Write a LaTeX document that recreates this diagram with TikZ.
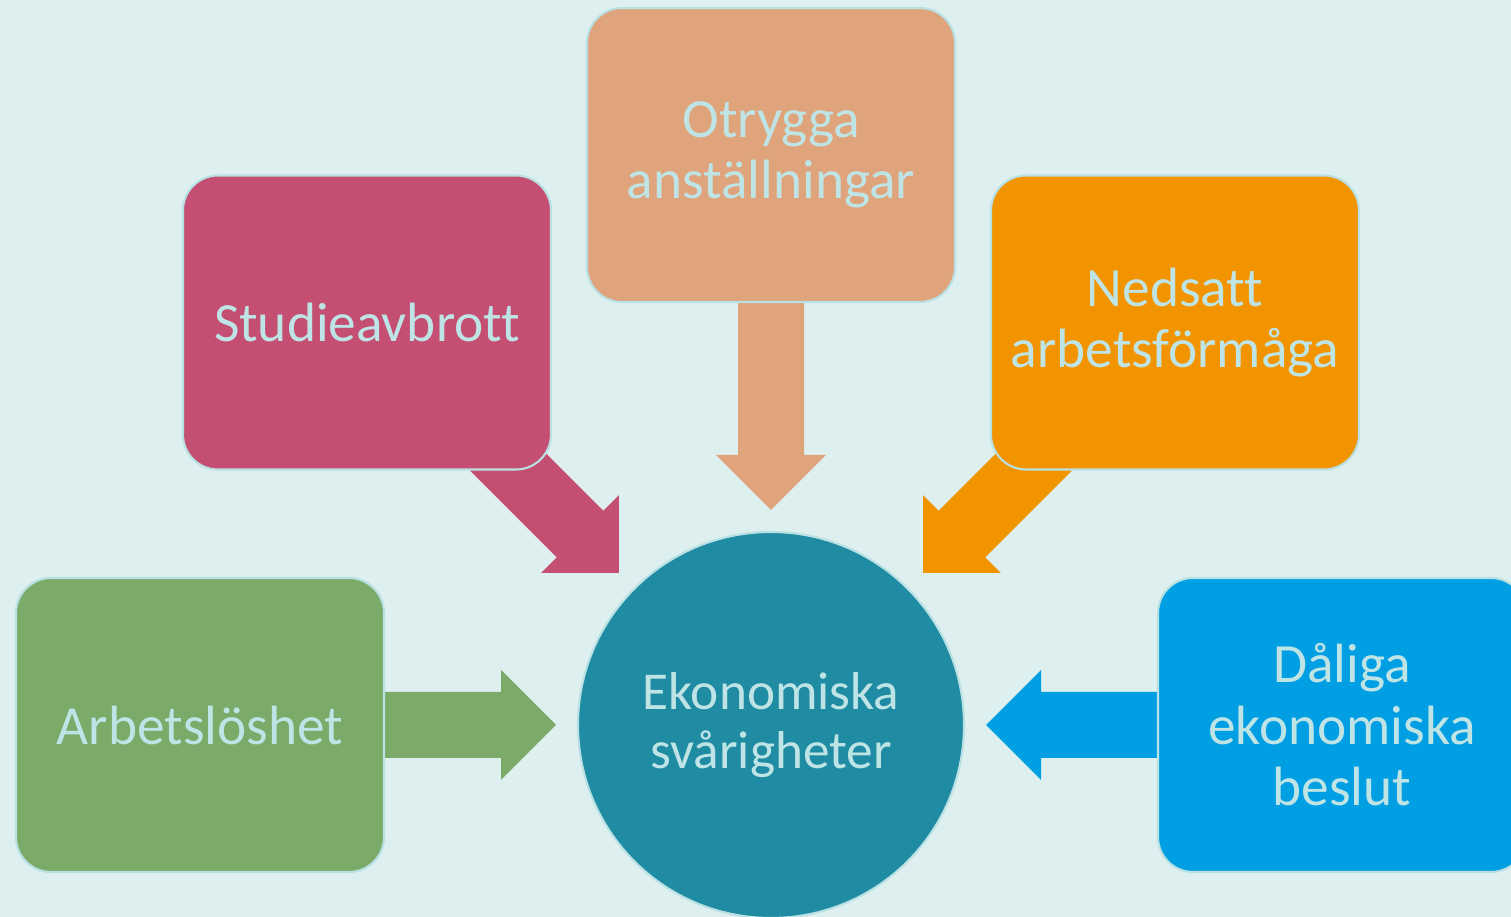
\documentclass[tikz,border=0pt]{standalone}
\usepackage{fontspec}
\setmainfont[Ligatures=NoCommon]{Carlito}
\usepackage{xcolor}
\usepackage{tikz}
\usetikzlibrary{positioning,calc,backgrounds}

\definecolor{bgcol}{HTML}{DDF0EF}
\definecolor{txtcol}{HTML}{BFE4E6}
\definecolor{edgecol}{HTML}{B9E0E3}
\definecolor{grn}{HTML}{7BAA69}
\definecolor{pnk}{HTML}{C44F72}
\definecolor{pch}{HTML}{DFA47B}
\definecolor{org}{HTML}{F29400}
\definecolor{blu}{HTML}{009FE3}
\definecolor{tea}{HTML}{1F8CA3}

\tikzset{
  box/.style={rectangle, rounded corners=0.7cm, draw=edgecol, line width=1.2pt,
    minimum width=7.36cm, minimum height=5.88cm, text width=7cm, align=center,
    text=txtcol, font=\fontsize{31.5}{35}\selectfont, inner sep=0pt, outer sep=0pt},
  hub/.style={circle, draw=edgecol, line width=1.2pt, fill=tea, minimum size=7.72cm,
    text width=6.5cm, align=center, text=txtcol, font=\fontsize{30.3}{34}\selectfont,
    inner sep=0pt, outer sep=0pt}
}

% block arrow: colour, from, to
\newcommand{\blockarrow}[3]{%
  \coordinate (h) at ($(#3)!1.1cm!(#2)$);
  \fill[#1] ($(#2)!0.66cm!90:(#3)$) -- ($(h)!0.66cm!-90:(#2)$) -- ($(h)!1.1cm!-90:(#2)$)
    -- (#3) -- ($(h)!1.1cm!90:(#2)$) -- ($(h)!0.66cm!90:(#2)$)
    -- ($(#2)!0.66cm!-90:(#3)$) -- cycle;
}

\begin{document}
\begin{tikzpicture}
        \useasboundingbox (0,0) rectangle (30.22,18.34);

        \node[hub] (E) at (15.42,3.84) {Ekonomiska\\svårigheter};
        \node[box, fill=pch] (O) [above=4.6cm of E] {Otrygga\\anställningar};
        \node[box, fill=pnk] (S) [left=0.72cm of O, yshift=-3.35cm] {Studieavbrott};
        \node[box, fill=org] (N) [right=0.72cm of O, yshift=-3.35cm] {Nedsatt\\arbetsförmåga};
        \node[box, fill=grn] (A) [left=3.88cm of E] {Arbetslöshet};
        \node[box, fill=blu] (D) [right=3.88cm of E] {Dåliga\\ekonomiska\\beslut};

        % arrow tips round the hub
        \coordinate (tO) at ($(E)+(90:4.3)$);
        \coordinate (tS) at ($(E)+(135:4.3)$);
        \coordinate (tN) at ($(E)+(45:4.3)$);
        \coordinate (tA) at ($(E)+(180:4.3)$);
        \coordinate (tD) at ($(E)+(0:4.3)$);
        \coordinate (sS) at ($(E)+(135:7.85)$);
        \coordinate (sN) at ($(E)+(45:7.85)$);

        \begin{scope}[on background layer]
          \fill[bgcol] (0,0) rectangle (30.22,18.34);
          % from every cause to the hub
          \blockarrow{pch}{O.south}{tO}
          \blockarrow{pnk}{sS}{tS}
          \blockarrow{org}{sN}{tN}
          \blockarrow{grn}{A.east}{tA}
          \blockarrow{blu}{D.west}{tD}
        \end{scope}
  \end{tikzpicture}
\end{document}
